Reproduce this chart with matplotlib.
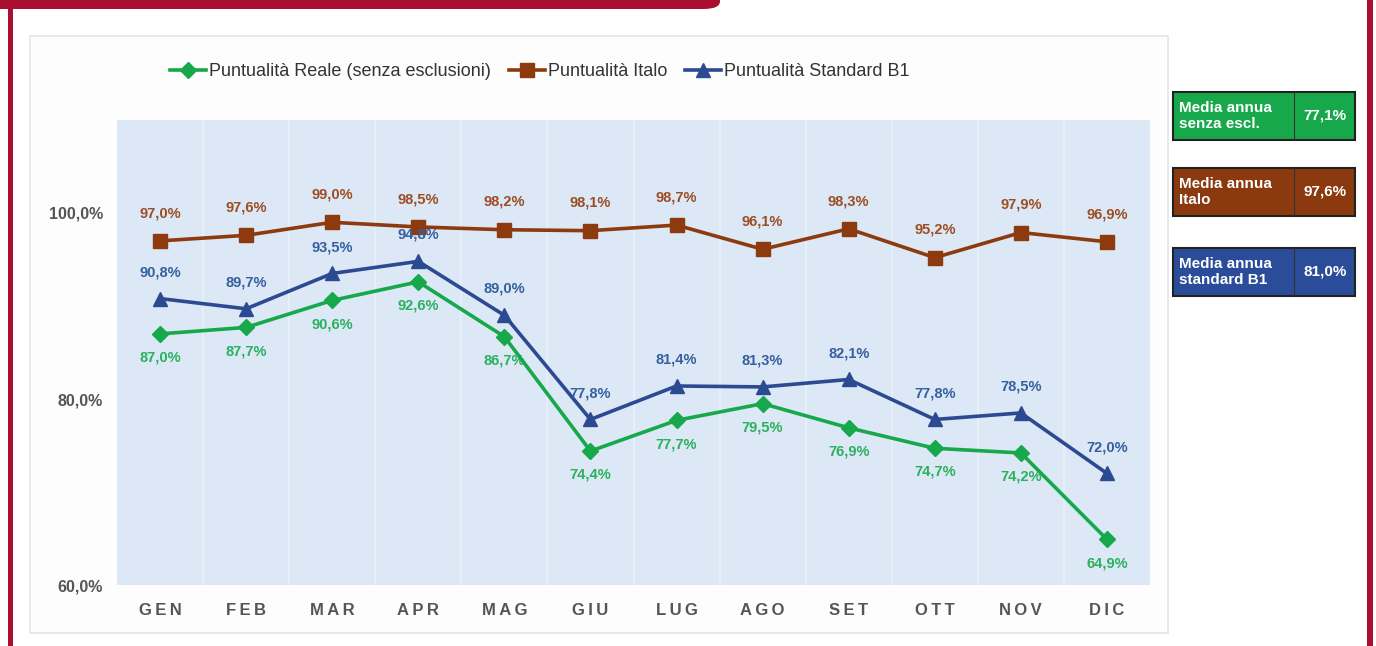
import matplotlib
matplotlib.use("Agg")
import matplotlib.pyplot as plt
from matplotlib.patches import FancyBboxPatch, Rectangle

plt.rcParams['font.family'] = ['Liberation Sans', 'DejaVu Sans']

months = ["GEN", "FEB", "MAR", "APR", "MAG", "GIU", "LUG", "AGO", "SET", "OTT", "NOV", "DIC"]
reale = [87.0, 87.7, 90.6, 92.6, 86.7, 74.4, 77.7, 79.5, 76.9, 74.7, 74.2, 64.9]
italo = [97.0, 97.6, 99.0, 98.5, 98.2, 98.1, 98.7, 96.1, 98.3, 95.2, 97.9, 96.9]
standard = [90.8, 89.7, 93.5, 94.8, 89.0, 77.8, 81.4, 81.3, 82.1, 77.8, 78.5, 72.0]
series_names = ["Puntualità Reale (senza esclusioni)", "Puntualità Italo", "Puntualità Standard B1"]
yticks = [60, 80, 100]
box_labels = ["Media annua\nsenza escl.", "Media annua\nItalo", "Media annua\nstandard B1"]
box_values = ["77,1%", "97,6%", "81,0%"]

W, H = 1376, 646
fig = plt.figure(figsize=(W / 100, H / 100), dpi=100)
fig.patch.set_facecolor("white")

def fx(px):
    return px / W

def fy(py):
    return 1 - py / H

crimson = "#a90f30"
# frame
fig.patches.append(FancyBboxPatch((fx(-20), fy(9)), fx(740), fy(-20) - fy(9),
                                  boxstyle="round,pad=0,rounding_size=0.012",
                                  transform=fig.transFigure, facecolor=crimson, edgecolor="none"))
fig.patches.append(Rectangle((fx(8), 0), fx(5), 1, transform=fig.transFigure,
                             facecolor=crimson, edgecolor="none"))
fig.patches.append(Rectangle((fx(1367), 0), fx(6), 1, transform=fig.transFigure,
                             facecolor=crimson, edgecolor="none"))
# chart panel
fig.patches.append(Rectangle((fx(30), fy(633)), fx(1138), fy(36) - fy(633), transform=fig.transFigure,
                             facecolor="#fdfdfe", edgecolor="#e2e4e8", lw=1.2, zorder=-1))

ax = fig.add_axes([fx(117), fy(585), fx(1150 - 117), fy(120) - fy(585)])
ax.set_zorder(2)
ax.set_facecolor("#dce8f6")
for s in ax.spines.values():
    s.set_visible(False)

x = list(range(len(months)))
green = "#17a84b"
brown = "#8c3a0e"
blue = "#2b4a92"

for k in range(1, len(months)):
    ax.axvline(k - 0.5, color="#e9f0f9", lw=1.2, zorder=1)

ax.plot(x, reale, color=green, lw=2.6, marker="D", ms=8.5, zorder=4, label=series_names[0])
ax.plot(x, italo, color=brown, lw=2.6, marker="s", ms=9.5, zorder=3, label=series_names[1])
ax.plot(x, standard, color=blue, lw=2.6, marker="^", ms=10, zorder=3, label=series_names[2])

lbl_kw = dict(fontsize=10.5, fontweight="bold", ha="center", va="center")
for i in x:
    ax.annotate(f"{italo[i]:.1f}%".replace(".", ","), (i, italo[i]), xytext=(0, 20),
                textcoords="offset points", color="#9c4e22", **lbl_kw)
    ax.annotate(f"{standard[i]:.1f}%".replace(".", ","), (i, standard[i]), xytext=(0, 19),
                textcoords="offset points", color="#365f9f", **lbl_kw)
    ax.annotate(f"{reale[i]:.1f}%".replace(".", ","), (i, reale[i]), xytext=(0, -17),
                textcoords="offset points", color="#2bb15d", **lbl_kw)

ax.set_xlim(-0.5, len(months) - 0.5)
ax.set_ylim(60, 110)
ax.set_yticks(yticks)
ax.set_yticklabels([f"{v:.1f}%".replace(".", ",") for v in yticks])
ax.set_xticks(x)
ax.set_xticklabels(["\u2009".join(m) for m in months])
ax.tick_params(length=0)
ax.tick_params(axis="y", pad=10, labelsize=11.5, labelcolor="#555555")
ax.tick_params(axis="x", pad=13, labelsize=12, labelcolor="#555555")
for t in ax.get_xticklabels() + ax.get_yticklabels():
    t.set_fontweight("bold")

leg = fig.legend(loc="center", bbox_to_anchor=(fx(540), fy(72)), ncol=3, frameon=False,
                 fontsize=13, handlelength=2.0, columnspacing=1.0, handletextpad=0.15,
                 labelcolor="#333333")

# right boxes
box_colors = [green, "#8a3a0e", "#2b4c98"]
box_tops = [92, 168, 248]
for lab, val, col, top in zip(box_labels, box_values, box_colors, box_tops):
    h = 48
    fig.patches.append(Rectangle((fx(1173), fy(top + h)), fx(1355 - 1173), fy(top) - fy(top + h),
                                 transform=fig.transFigure, facecolor=col, edgecolor="#222222", lw=1.5))
    fig.lines.append(plt.Line2D([fx(1294), fx(1294)], [fy(top + h), fy(top)],
                                transform=fig.transFigure, color="#333333", lw=0.8))
    fig.text(fx(1179), fy(top + h / 2), lab, color="white", fontsize=11, fontweight="bold",
             va="center", ha="left", linespacing=1.2)
    fig.text(fx(1325), fy(top + h / 2), val, color="white", fontsize=11, fontweight="bold",
             va="center", ha="center")

fig.savefig("out.png", dpi=100)
